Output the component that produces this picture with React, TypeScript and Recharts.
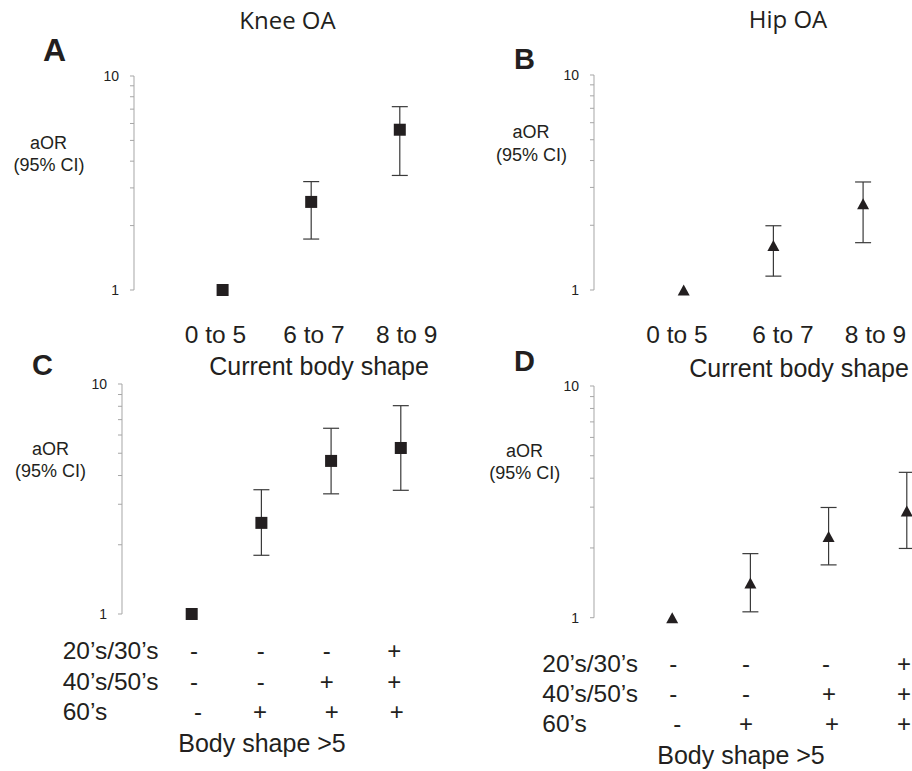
import React from 'react'
import { ScatterChart, Scatter, XAxis, YAxis, ErrorBar } from 'recharts'

// aOR by current body shape (panels A, B)
const shapeCategories = ['0 to 5', '6 to 7', '8 to 9']
const kneeShapeOR = [1, 2.58, 5.61]
const kneeShapeLow = [1, 1.73, 3.43]
const kneeShapeHigh = [1, 3.21, 7.19]
const hipShapeOR = [1, 1.61, 2.52]
const hipShapeLow = [1, 1.16, 1.66]
const hipShapeHigh = [1, 1.99, 3.18]

// aOR by decade with body shape >5 (panels C, D)
const ageRows = ['20’s/30’s', '40’s/50’s', '60’s']
const ageSigns = [
  ['-', '-', '-', '+'],
  ['-', '-', '+', '+'],
  ['-', '+', '+', '+'],
]
const kneeAgeOR = [1, 2.49, 4.63, 5.27]
const kneeAgeLow = [1, 1.8, 3.33, 3.45]
const kneeAgeHigh = [1, 3.47, 6.42, 8.05]
const hipAgeOR = [1, 1.41, 2.24, 2.89]
const hipAgeLow = [1, 1.06, 1.69, 1.99]
const hipAgeHigh = [1, 1.89, 2.99, 4.24]

const logTicks = [1, 2, 3, 4, 5, 6, 7, 8, 9, 10]

const SANS = '"Liberation Sans", Arial, sans-serif'
const TITLE = '"Open Sans", "Noto Sans", sans-serif'
const INK = '#231f20'

function buildRows(or: number[], low: number[], high: number[]) {
  return or.map((v, i) => ({
    x: i + 1,
    y: v,
    err: i === 0 ? null : [v - low[i], high[i] - v],
  }))
}

const Square = (props: any) => {
  const { cx, cy } = props
  return <rect x={cx - 6} y={cy - 6} width={12} height={12} fill={INK} />
}

const Triangle = (props: any) => {
  const { cx, cy } = props
  return <polygon points={`${cx},${cy - 5.5} ${cx - 6},${cy + 5.5} ${cx + 6},${cy + 5.5}`} fill={INK} />
}

interface PanelProps {
  rows: any[]
  axisX: number
  y10: number
  y1: number
  spacing: number
  shape: 'square' | 'triangle'
}

function Panel({ rows, axisX, y10, y1, spacing, shape }: PanelProps) {
  const plotW = spacing * (rows.length + 0.5)
  const width = 40 + plotW + 10
  const height = y1 - y10 + 20
  return (
    <div style={{ position: 'absolute', left: axisX - 40, top: y10 - 10 }}>
      <ScatterChart width={width} height={height} margin={{ top: 10, right: 10, bottom: 10, left: 0 }}>
        <XAxis type="number" dataKey="x" domain={[0, rows.length + 0.5]} hide />
        <YAxis
          type="number"
          dataKey="y"
          scale="log"
          domain={[1, 10]}
          ticks={logTicks}
          width={40}
          tickSize={4}
          tickMargin={11}
          interval={0}
          stroke="#a6a6a6"
          tickLine={{ stroke: '#a6a6a6' }}
          tick={{ fontSize: 14, fill: '#222', fontFamily: SANS }}
          tickFormatter={(v: number) => (v === 1 || v === 10 ? String(v) : '')}
        />
        <Scatter data={rows} shape={shape === 'square' ? Square : Triangle} isAnimationActive={false}>
          <ErrorBar dataKey="err" direction="y" width={8} stroke="#3a3a3a" strokeWidth={1.2} />
        </Scatter>
      </ScatterChart>
    </div>
  )
}

const shapeLabelA = [215.5, 314, 406.7]
const shapeLabelB = [677, 783, 875.5]
const signColsC = [
  [194, 260.7, 326.7, 394.3],
  [194, 260.7, 326.7, 394.3],
  [198, 260, 331.7, 396.7],
]
const signColsD = [
  [673.3, 746, 826, 904],
  [673.3, 746, 829, 904],
  [677.3, 746, 832, 904],
]

export default function App() {
  const t = (x: number, y: number, s: string, size: number, anchor = 'middle', extra: any = {}) => (
    <text x={x} y={y} textAnchor={anchor} fontSize={size} fontFamily={SANS} fill={INK} {...extra}>
      {s}
    </text>
  )

  return (
    <div style={{ position: 'absolute', left: 0, top: 0, width: 912, height: 771, overflow: 'hidden', background: '#fff' }}>
      <Panel rows={buildRows(kneeShapeOR, kneeShapeLow, kneeShapeHigh)} axisX={134} y10={76} y1={290} spacing={88.6} shape="square" />
      <Panel rows={buildRows(hipShapeOR, hipShapeLow, hipShapeHigh)} axisX={594.3} y10={74.7} y1={289.7} spacing={89.7} shape="triangle" />
      <Panel rows={buildRows(kneeAgeOR, kneeAgeLow, kneeAgeHigh)} axisX={122.3} y10={384} y1={614} spacing={69.7} shape="square" />
      <Panel rows={buildRows(hipAgeOR, hipAgeLow, hipAgeHigh)} axisX={594.3} y10={386.3} y1={618} spacing={78.2} shape="triangle" />

      <svg width={912} height={771} style={{ position: 'absolute', left: 0, top: 0, pointerEvents: 'none' }}>
        <text x={287.5} y={29} textAnchor="middle" fontSize={24} fontFamily={TITLE} fill={INK}>Knee OA</text>
        <text x={788} y={27.5} textAnchor="middle" fontSize={24} fontFamily={TITLE} fill={INK}>Hip OA</text>

        {t(43, 61, 'A', 32, 'start', { fontWeight: 'bold' })}
        {t(514, 69.3, 'B', 29, 'start', { fontWeight: 'bold' })}
        {t(32, 374.5, 'C', 29, 'start', { fontWeight: 'bold' })}
        {t(514, 370.7, 'D', 29, 'start', { fontWeight: 'bold' })}

        {t(48.5, 149, 'aOR', 18)}
        {t(49, 171, '(95% CI)', 18)}
        {t(531, 138, 'aOR', 18)}
        {t(531.5, 160.5, '(95% CI)', 18)}
        {t(50.5, 455, 'aOR', 18)}
        {t(50.5, 477, '(95% CI)', 18)}
        {t(524.5, 456.7, 'aOR', 18)}
        {t(524.7, 479, '(95% CI)', 18)}

        {shapeCategories.map((c, i) => <React.Fragment key={'a' + i}>{t(shapeLabelA[i], 343.3, c, 24.5)}</React.Fragment>)}
        {shapeCategories.map((c, i) => <React.Fragment key={'b' + i}>{t(shapeLabelB[i], 343, c, 24.5)}</React.Fragment>)}
        {t(319, 375, 'Current body shape', 25)}
        {t(799, 376.7, 'Current body shape', 25)}

        {ageRows.map((r, i) => <React.Fragment key={'cr' + i}>{t(62.7, [659.3, 690, 720][i], r, 24.5, 'start')}</React.Fragment>)}
        {ageRows.map((r, i) => <React.Fragment key={'dr' + i}>{t(542.3, [672.3, 701.7, 731.7][i], r, 24.5, 'start')}</React.Fragment>)}
        {ageSigns.map((row, i) =>
          row.map((s, j) => (
            <React.Fragment key={'cs' + i + j}>{t(signColsC[i][j], [659.3, 690, 720][i], s, 24)}</React.Fragment>
          ))
        )}
        {ageSigns.map((row, i) =>
          row.map((s, j) => (
            <React.Fragment key={'ds' + i + j}>{t(signColsD[i][j], [672.3, 701.7, 731.7][i], s, 24)}</React.Fragment>
          ))
        )}
        {t(262, 751.7, 'Body shape >5', 25)}
        {t(741, 764.3, 'Body shape >5', 25)}
      </svg>
    </div>
  )
}
